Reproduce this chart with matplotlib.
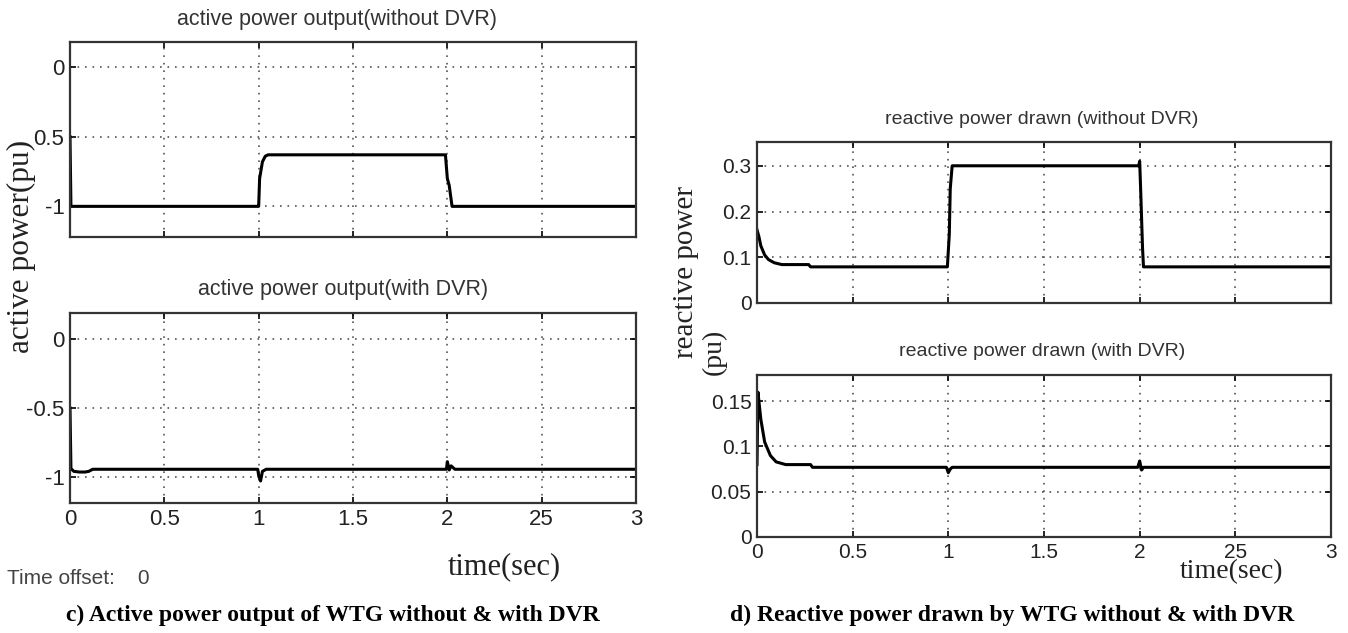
import matplotlib
matplotlib.use("Agg")
import matplotlib.pyplot as plt

# ---- data ----
# c) active power, without DVR
t_p_nodvr = [0.0, 0.005, 0.99, 1.0, 1.005, 1.02, 1.035, 1.05, 1.99, 2.0, 2.01, 2.025, 3.0]
p_nodvr = [-0.5, -1.0, -1.0, -1.0, -0.8, -0.68, -0.64, -0.63, -0.63, -0.8, -0.85, -1.0, -1.0]

# c) active power, with DVR
t_p_dvr = [0.0, 0.005, 0.02, 0.05, 0.08, 0.1, 0.12, 0.995, 1.0, 1.01, 1.02, 1.04,
           1.995, 2.0, 2.01, 2.02, 2.04, 3.0]
p_dvr = [-0.5, -0.94, -0.96, -0.965, -0.965, -0.96, -0.945, -0.945, -0.99, -1.03, -0.96, -0.945,
         -0.945, -0.89, -0.95, -0.92, -0.945, -0.945]

# d) reactive power, without DVR
t_q_nodvr = [0.0, 0.01, 0.02, 0.04, 0.06, 0.09, 0.13, 0.27, 0.28, 0.995, 1.005, 1.01, 1.02,
             1.995, 2.0, 2.005, 2.015, 2.02, 3.0]
q_nodvr = [0.16, 0.145, 0.125, 0.105, 0.095, 0.088, 0.084, 0.084, 0.079, 0.079, 0.15, 0.25, 0.3,
           0.3, 0.31, 0.25, 0.12, 0.079, 0.079]

# d) reactive power, with DVR
t_q_dvr = [0.0, 0.005, 0.01, 0.02, 0.04, 0.07, 0.1, 0.15, 0.28, 0.29, 0.99, 1.0, 1.01, 1.02,
           1.99, 2.0, 2.01, 2.02, 3.0]
q_dvr = [0.08, 0.16, 0.15, 0.13, 0.105, 0.09, 0.083, 0.08, 0.08, 0.077, 0.077, 0.071, 0.075, 0.077,
         0.077, 0.084, 0.074, 0.077, 0.077]

x_ticks = [0, 0.5, 1, 1.5, 2, 2.5, 3]
x_labels = ["0", "0.5", "1", "1.5", "2", "25", "3"]
p_ticks = [-1, -0.5, 0]
p_labels_nodvr = ["-1", "0.5", "0"]
p_labels_dvr = ["-1", "-0.5", "0"]
q_ticks_nodvr = [0, 0.1, 0.2, 0.3]
q_ticks_dvr = [0, 0.05, 0.1, 0.15]

W, H = 1348, 633
fig = plt.figure(figsize=(W / 100, H / 100), dpi=100)

narrow = ["Liberation Sans Narrow", "Liberation Sans", "DejaVu Sans"]
serif = ["Liberation Serif", "DejaVu Serif"]


def make_ax(x0, y0, x1, y1):
    # pixel box -> figure fraction
    return fig.add_axes([x0 / W, 1 - y1 / H, (x1 - x0) / W, (y1 - y0) / H])


def style(ax, ylim, yticks, ylabels, fs, xlabels=True):
    ax.set_xticks(x_ticks)
    ax.set_yticks(yticks)
    ax.set_xlim(0, 3)
    ax.set_ylim(*ylim)
    ax.set_yticklabels(ylabels, family=narrow, fontsize=fs, color="#222222")
    if xlabels:
        ax.set_xticklabels(x_labels, family=narrow, fontsize=fs, color="#222222")
    else:
        ax.set_xticklabels([])
    ax.tick_params(direction="in", top=True, right=True, length=4, width=1.2, pad=4)
    ax.grid(True, color="#555555", linestyle=(0, (1, 3.5)), linewidth=1.2)
    for s in ax.spines.values():
        s.set_linewidth(1.6)
        s.set_color("#333333")


ax1 = make_ax(70, 42, 636, 237)
ax1.plot(t_p_nodvr, p_nodvr, color="black", lw=2.2)
style(ax1, (-1.22, 0.18), p_ticks, p_labels_nodvr, 16, xlabels=False)

ax2 = make_ax(70, 313, 636, 503)
ax2.plot(t_p_dvr, p_dvr, color="black", lw=2.2)
style(ax2, (-1.19, 0.19), p_ticks, p_labels_dvr, 16)

ax3 = make_ax(757, 142, 1331, 303)
ax3.plot(t_q_nodvr, q_nodvr, color="black", lw=2.2)
style(ax3, (0, 0.352), q_ticks_nodvr, ["0", "0.1", "0.2", "0.3"], 15, xlabels=False)

ax4 = make_ax(757, 375, 1331, 537)
ax4.plot(t_q_dvr, q_dvr, color="black", lw=2.2)
style(ax4, (0, 0.179), q_ticks_dvr, ["0", "0.05", "0.1", "0.15"], 15)

# panel titles
tk = dict(family=narrow, color="#333333", ha="center", va="center")
fig.text(337 / W, 1 - 20 / H, "active power output(without DVR)", fontsize=15.5, **tk)
fig.text(343 / W, 1 - 290 / H, "active power output(with DVR)", fontsize=15.5, **tk)
fig.text(1042 / W, 1 - 120 / H, "reactive power drawn (without DVR)", fontsize=14, **tk)
fig.text(1042 / W, 1 - 352 / H, "reactive power drawn (with DVR)", fontsize=14, **tk)

# axis labels
fig.text(21 / W, 1 - 246 / H, "active power(pu)", family=serif, fontsize=22.5,
         rotation=90, ha="center", va="center", color="#222222")
fig.text(686 / W, 1 - 272 / H, "reactive power", family=serif, fontsize=21,
         rotation=90, ha="center", va="center", color="#222222")
fig.text(714 / W, 1 - 352 / H, "(pu)", family=serif, fontsize=20,
         rotation=90, ha="center", va="center", color="#222222")
fig.text(504 / W, 1 - 567 / H, "time(sec)", family=serif, fontsize=22,
         ha="center", va="center", color="#222222")
fig.text(1232 / W, 1 - 572 / H, "time(sec)", family=serif, fontsize=20,
         ha="center", va="center", color="#222222")
fig.text(7 / W, 1 - 578 / H, "Time offset:    0", family=narrow, fontsize=15,
         ha="left", va="center", color="#444444")

# captions
fig.text(333 / W, 1 - 615 / H, "c) Active power output of WTG without & with DVR",
         family=serif, fontsize=17, weight="bold", ha="center", va="center")
fig.text(1012 / W, 1 - 615 / H, "d) Reactive power drawn by WTG without & with DVR",
         family=serif, fontsize=17, weight="bold", ha="center", va="center")

fig.savefig("out.png", dpi=100)
